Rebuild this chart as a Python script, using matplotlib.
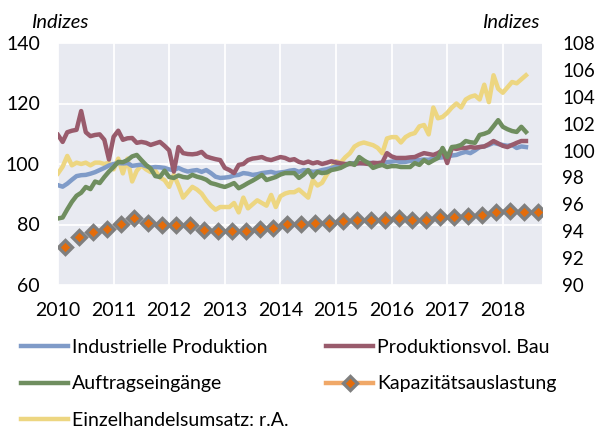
import numpy as np
import matplotlib
matplotlib.use("Agg")
import matplotlib.pyplot as plt
from matplotlib.lines import Line2D

plt.rcParams['font.family'] = ['Lato', 'DejaVu Sans']

start_year = 2010
year_ticks = [2010, 2011, 2012, 2013, 2014, 2015, 2016, 2017, 2018]
left_ticks = [60, 80, 100, 120, 140]
right_ticks = [90, 92, 94, 96, 98, 100, 102, 104, 106, 108]

industrielle = [93.0, 92.5, 93.5, 94.8, 96.0, 96.3, 96.4, 96.8, 97.3, 98.0, 98.7, 99.5,
                100.0, 100.3, 100.2, 100.3, 99.4, 99.6, 99.8, 99.3, 98.8, 99.0, 98.9, 98.7,
                98.2, 98.0, 98.7, 98.0, 97.5, 97.8, 98.0, 97.4, 98.0, 97.0, 95.8, 95.4,
                95.5, 95.7, 96.2, 96.4, 97.0, 96.8, 96.4, 96.6, 97.0, 97.2, 97.4, 97.0,
                97.2, 97.4, 97.8, 98.0, 97.4, 98.0, 97.8, 97.4, 97.6, 98.0, 98.3, 98.7,
                99.2, 99.7, 99.8, 100.1, 100.3, 100.2, 100.3, 100.4, 100.3, 100.2, 100.3, 100.6,
                100.8, 101.0, 100.6, 100.7, 101.0, 101.3, 101.3, 101.5, 101.4, 101.8, 102.0, 102.2,
                102.6, 102.8, 103.0, 103.6, 104.0, 103.6, 104.5, 105.6, 105.8, 106.3, 107.0, 106.6,
                106.3, 106.0, 106.3, 105.3, 105.8, 105.6]

bau = [109.6, 107.3, 110.5, 111.0, 111.3, 117.5, 110.5, 109.2, 109.6, 109.8, 108.0, 101.5,
       109.0, 111.0, 108.0, 108.5, 108.6, 107.0, 107.3, 107.0, 106.3, 106.8, 107.3, 106.0,
       104.5, 97.5, 105.6, 103.6, 103.3, 103.2, 103.4, 104.0, 102.5, 102.0, 101.6, 101.3,
       98.7, 98.0, 97.0, 99.7, 100.0, 101.3, 101.8, 102.0, 102.3, 101.6, 101.3, 101.8,
       102.3, 102.0, 101.3, 101.6, 100.7, 100.3, 100.8, 100.2, 100.6, 100.0, 100.4, 100.9,
       100.5, 100.2, 100.0, 100.0, 100.0, 100.3, 100.2, 100.0, 100.4, 100.3, 100.5, 103.6,
       102.5, 102.0, 102.0, 102.0, 102.2, 102.3, 103.0, 103.6, 103.3, 103.0, 103.6, 104.6,
       100.3, 105.3, 105.0, 105.3, 105.3, 105.6, 105.4, 105.6, 105.8, 106.6, 107.6, 106.8,
       106.0, 105.6, 106.3, 107.0, 107.6, 107.6]

auftrag = [82.0, 82.3, 85.0, 87.5, 89.5, 90.5, 92.4, 91.7, 94.2, 93.7, 95.7, 97.5,
           99.0, 100.7, 100.6, 101.3, 102.5, 103.0, 101.3, 99.7, 98.5, 96.0, 95.7, 97.8,
           95.7, 95.4, 96.2, 95.7, 95.5, 96.4, 95.8, 95.4, 94.8, 93.7, 93.3, 92.8,
           92.4, 93.0, 93.7, 92.0, 92.8, 93.7, 94.5, 95.4, 96.4, 94.7, 95.2, 95.7,
           96.5, 97.0, 97.0, 97.0, 95.4, 96.5, 98.0, 95.7, 97.4, 97.0, 97.2, 98.0,
           98.3, 98.7, 99.5, 100.3, 99.7, 102.3, 101.2, 100.3, 98.7, 99.3, 99.7, 99.0,
           99.3, 99.3, 99.0, 99.0, 99.0, 100.3, 99.7, 101.3, 100.3, 101.2, 102.0, 105.3,
           102.3, 105.6, 105.8, 106.3, 107.6, 107.2, 107.0, 109.6, 110.0, 110.6, 112.5, 114.5,
           112.3, 111.5, 110.9, 110.6, 112.3, 110.6]

einzelhandel = [98.3, 98.8, 99.6, 98.9, 99.1, 99.0, 99.1, 98.9, 99.1, 99.1, 99.0, 99.1,
                98.6, 99.4, 98.3, 99.4, 97.7, 98.5, 98.9, 98.6, 98.4, 98.5, 98.0, 97.8,
                97.3, 98.2, 97.4, 96.5, 96.9, 97.3, 97.1, 96.8, 96.3, 95.9, 95.6, 95.8,
                95.8, 95.8, 96.1, 95.4, 96.5, 95.7, 96.0, 96.3, 96.1, 95.9, 96.7, 95.8,
                96.6, 96.8, 96.9, 96.9, 97.1, 96.8, 96.5, 97.8, 97.4, 97.6, 98.2, 98.7,
                99.2, 99.1, 99.5, 99.8, 100.3, 100.5, 100.6, 100.5, 100.4, 100.2, 99.8, 100.9,
                101.0, 101.0, 100.6, 101.0, 101.2, 101.3, 101.8, 101.9, 101.2, 103.2, 102.4, 102.5,
                102.8, 103.2, 103.5, 103.2, 103.8, 104.0, 104.1, 103.8, 104.9, 103.6, 105.6, 104.6,
                104.3, 104.7, 105.1, 105.0, 105.3, 105.6]

kapazitaet = [72.6, 75.9, 77.6, 78.4, 80.3, 82.1, 80.6, 79.9, 79.9, 79.9, 78.3, 78.0,
              78.0, 78.0, 78.4, 78.7, 80.3, 80.2, 80.6, 80.6, 81.3, 81.5, 81.5, 81.5,
              82.0, 81.5, 81.5, 82.4, 82.4, 82.8, 83.2, 84.1, 84.6, 84.1, 84.1]

labels = ["Industrielle Produktion", "Produktionsvol. Bau", "Auftragseingänge",
          "Kapazitätsauslastung", "Einzelhandelsumsatz: r.A."]

c_blue = "#7F9BC8"
c_red = "#995B6C"
c_green = "#6F8E5F"
c_yellow = "#EDD681"
c_orange = "#E46C0A"
c_gray = "#7F7F7F"
c_orange_line = "#F0A868"
bg = "#E8EAF1"

t_month = start_year + np.arange(len(industrielle)) / 12.0
t_quarter = start_year + (np.arange(len(kapazitaet)) + 0.5) / 4.0

W, H = 598, 429
fig = plt.figure(figsize=(W / 100, H / 100), dpi=100)
L, R, T, B = 58, 542, 43, 285
rect = [L / W, (H - B) / H, (R - L) / W, (B - T) / H]
fig.patches.append(plt.Rectangle((rect[0], rect[1]), rect[2], rect[3],
                                 transform=fig.transFigure, facecolor=bg,
                                 edgecolor='none', zorder=-5))
ax = fig.add_axes(rect)
ax2 = ax.twinx()
ax.patch.set_visible(False)
ax2.patch.set_visible(False)
ax2.set_zorder(0)
ax.set_zorder(1)
for a in (ax, ax2):
    for s in a.spines.values():
        s.set_visible(False)

lw = 3.2
ax2.plot(t_month, einzelhandel, color=c_yellow, lw=lw, solid_joinstyle='round', zorder=2)
ax.plot(t_month, industrielle, color=c_blue, lw=lw, solid_joinstyle='round', zorder=3)
ax.plot(t_month, bau, color=c_red, lw=lw, solid_joinstyle='round', zorder=3)
ax.plot(t_month, auftrag, color=c_green, lw=lw, solid_joinstyle='round', zorder=3)
ax.plot(t_quarter, kapazitaet, linestyle='none', marker='D', markersize=7,
        markerfacecolor=c_orange, markeredgecolor=c_gray, markeredgewidth=2.4, zorder=4)

ax.set_xlim(2010, 2010 + (R - L) / 55.6)
ax.set_ylim(60, 140)
ax2.set_ylim(90, 108)
ax.set_xticks(year_ticks)
ax.set_xticklabels([str(y) for y in year_ticks])
ax.set_yticks(left_ticks)
ax2.set_yticks(right_ticks)
# grid drawn on the background axis so it stays behind all lines
ax2.set_xticks(year_ticks)
for yv in left_ticks:
    ax2.axhline(90 + (yv - 60) * 18 / 80, color='white', lw=1.3, zorder=0)
for xv in year_ticks:
    ax2.axvline(xv, color='white', lw=1.3, zorder=0)

fs = 14
ax.tick_params(axis='both', length=0, labelsize=fs, colors='black')
ax.tick_params(axis='x', pad=12)
ax.tick_params(axis='y', pad=13)
ax2.tick_params(axis='y', length=0, labelsize=13.5, pad=14.5)
ax2.tick_params(axis='x', length=0, labelbottom=False)

fig.text(31 / W, 1 - 22 / H, "Indizes", fontsize=14.5, style='italic', ha='left', va='center')
fig.text(539 / W, 1 - 23 / H, "Indizes", fontsize=14.5, style='italic', ha='right', va='center')

h_blue = Line2D([], [], color=c_blue, lw=lw)
h_red = Line2D([], [], color=c_red, lw=lw)
h_green = Line2D([], [], color=c_green, lw=lw)
h_kap = Line2D([], [], color=c_orange_line, lw=lw, marker='D', markersize=7,
               markerfacecolor=c_orange, markeredgecolor=c_gray, markeredgewidth=2.4)
h_yellow = Line2D([], [], color=c_yellow, lw=lw)

fig.legend([h_blue, h_green, h_yellow, h_red, h_kap],
           [labels[0], labels[2], labels[4], labels[1], labels[3]],
           ncol=2, loc='upper left', bbox_to_anchor=(21 / W, 1 - 339 / H),
           frameon=False, fontsize=14, handlelength=2.4, handletextpad=0.22,
           columnspacing=1.95, labelspacing=1.0, borderaxespad=0, borderpad=0)

fig.savefig("out.png", dpi=100)
